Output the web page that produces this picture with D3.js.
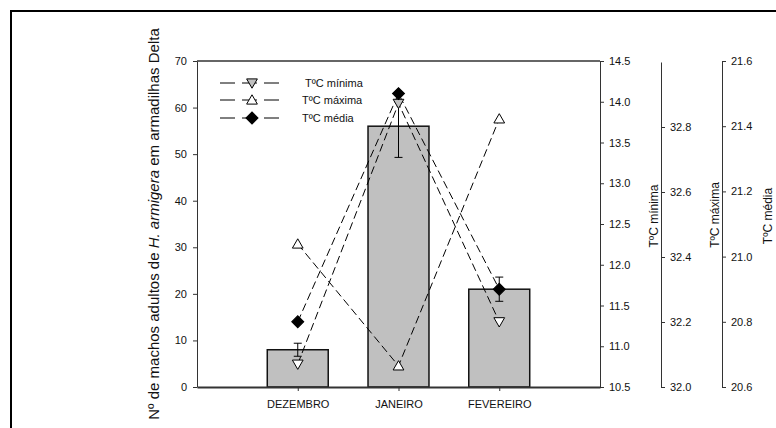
<!DOCTYPE html>
<html><head><meta charset="utf-8">
<script src="https://cdn.jsdelivr.net/npm/d3@7"></script>
<style>body{margin:0;background:#fff}svg{display:block;font-family:"Liberation Sans",Arial,sans-serif}</style>
</head><body>
<svg id="c" width="776" height="428"></svg>
<script>
const categories = ["DEZEMBRO","JANEIRO","FEVEREIRO"];
const machos = [8.0, 56.0, 21.0];
const machosErr = [1.4, 6.7, 2.6];
const tMin = [10.78, 13.98, 11.3];
const tMax = [32.44, 32.065, 32.825];
const tMed = [20.80, 21.50, 20.90];
const leftTicks = [0,10,20,30,40,50,60,70];
const minTicks = [10.5,11.0,11.5,12.0,12.5,13.0,13.5,14.0,14.5];
const maxTicks = [32.0,32.2,32.4,32.6,32.8];
const medTicks = [20.6,20.8,21.0,21.2,21.4,21.6];
const legendLabels = ["T\u00baC m\u00ednima","T\u00baC m\u00e1xima","T\u00baC m\u00e9dia"];
const yTitle = ["N\u00ba de machos adultos de ", "H. armigera", " em armadilhas Delta"];
const axisTitles = ["T\u00baC m\u00ednima","T\u00baC m\u00e1xima","T\u00baC m\u00e9dia"];

const svg = d3.select("#c");
const L=197, R=600, T=61, B=387;
const ax="#333";

svg.append("rect").attr("x",11).attr("y",11).attr("width",800).attr("height",500)
  .attr("fill","none").attr("stroke","#000").attr("stroke-width",2);

const x = d3.scalePoint().domain(categories).range([L,R]).padding(1);
const y = d3.scaleLinear().domain([0,70]).range([B,T]);
const yMin = d3.scaleLinear().domain([10.5,14.5]).range([B,T]);
const yMax = d3.scaleLinear().domain([32,33]).range([B,T+1]);
const yMed = d3.scaleLinear().domain([20.6,21.6]).range([B,T]);
const bw = x.step()*0.605;

// bars
svg.append("g").selectAll("rect").data(categories).join("rect")
  .attr("x",d=>x(d)-bw/2).attr("y",(d,i)=>y(machos[i]))
  .attr("width",bw).attr("height",(d,i)=>B-y(machos[i]))
  .attr("fill","#c0c0c0").attr("stroke","#111").attr("stroke-width",1.5);

// error bars
const eb = svg.append("g").attr("stroke","#000").attr("stroke-width",1);
categories.forEach((c,i)=>{
  const cx=x(c), y1=y(machos[i]+machosErr[i]), y2=y(machos[i]-machosErr[i]);
  eb.append("line").attr("x1",cx).attr("x2",cx).attr("y1",y1).attr("y2",y2);
  eb.append("line").attr("x1",cx-4).attr("x2",cx+4).attr("y1",y1).attr("y2",y1);
  eb.append("line").attr("x1",cx-4).attr("x2",cx+4).attr("y1",y2).attr("y2",y2);
});

// axes
function styleAxis(g){g.selectAll("path,line").attr("stroke",ax);g.selectAll("text").attr("fill","#111").style("font-size","11px");}
svg.append("g").attr("transform",`translate(${L},0)`)
  .call(d3.axisLeft(y).tickValues(leftTicks).tickSize(4).tickSizeOuter(0).tickPadding(6).tickFormat(d3.format("d")))
  .call(g=>g.attr("font-family",null)).call(styleAxis);
svg.append("g").attr("transform",`translate(${R},0)`)
  .call(d3.axisRight(yMin).tickValues(minTicks).tickSize(4).tickSizeOuter(0).tickPadding(5).tickFormat(d3.format(".1f")))
  .call(g=>g.attr("font-family",null)).call(styleAxis);
svg.append("g").attr("transform",`translate(661,0)`)
  .call(d3.axisRight(yMax).tickValues(maxTicks).tickSize(4).tickSizeOuter(0).tickPadding(5).tickFormat(d3.format(".1f")))
  .call(g=>g.attr("font-family",null)).call(styleAxis);
svg.append("g").attr("transform",`translate(722,0)`)
  .call(d3.axisRight(yMed).tickValues(medTicks).tickSize(4).tickSizeOuter(0).tickPadding(5).tickFormat(d3.format(".1f")))
  .call(g=>g.attr("font-family",null)).call(styleAxis);
svg.append("g").attr("transform",`translate(0,${B})`)
  .call(d3.axisBottom(x).tickSize(4).tickSizeOuter(0).tickPadding(9))
  .call(g=>g.attr("font-family",null)).call(styleAxis)
  .call(g=>g.select(".domain").attr("stroke-width",1.8));
svg.append("line").attr("x1",L).attr("x2",R).attr("y1",T).attr("y2",T).attr("stroke",ax).attr("stroke-width",1.5);

// titles
const yt = svg.append("text").attr("transform","translate(159,224) rotate(-90)")
  .attr("text-anchor","middle").style("font-size","15px").attr("fill","#111");
yt.append("tspan").text(yTitle[0]);
yt.append("tspan").style("font-style","italic").text(yTitle[1]);
yt.append("tspan").text(yTitle[2]);
[[658,216],[719,215],[772,216]].forEach((p,i)=>{
  svg.append("text").attr("transform",`translate(${p[0]},${p[1]}) rotate(-90)`)
    .attr("text-anchor","middle").style("font-size","12px").attr("fill","#111").text(axisTitles[i]);
});

// lines
const series = [
  {vals:tMin, sc:yMin, sym:"down"},
  {vals:tMax, sc:yMax, sym:"up"},
  {vals:tMed, sc:yMed, sym:"diamond"}
];
const line = d3.line();
series.forEach(s=>{
  svg.append("path").attr("d",line(categories.map((c,i)=>[x(c),s.sc(s.vals[i])])))
    .attr("fill","none").attr("stroke","#000").attr("stroke-width",1).attr("stroke-dasharray","8,4");
});
const triSym = d3.symbol().type(d3.symbolTriangle).size(50);
const diaSym = d3.symbol().type(d3.symbolSquare).size(72);
function drawMarker(g,type,cx,cy,fill){
  if(type==="diamond"){
    g.append("path").attr("d",diaSym()).attr("transform",`translate(${cx},${cy}) rotate(45)`)
      .attr("fill","#000").attr("stroke","#000");
  } else {
    g.append("path").attr("d",triSym()).attr("transform",`translate(${cx},${cy+(type==="down"?-1:1)}) rotate(${type==="down"?180:0})`)
      .attr("fill",fill).attr("stroke","#000").attr("stroke-width",1);
  }
}
const mk = svg.append("g");
series.forEach(s=>{
  categories.forEach((c,i)=>{
    const cy=s.sc(s.vals[i]);
    const insideBar = cy>y(machos[i]);
    const fill = s.sym==="down" ? (insideBar?"#fff":"#c0c0c0") : "#fff";
    drawMarker(mk,s.sym,x(c),cy,fill);
  });
});

// legend
const lg = svg.append("g");
const legY=[83,100,118];
series.forEach((s,i)=>{
  lg.append("line").attr("x1",220).attr("x2",279).attr("y1",legY[i]).attr("y2",legY[i])
    .attr("stroke","#000").attr("stroke-width",1).attr("stroke-dasharray","15,7");
  drawMarker(lg,s.sym,252,legY[i],s.sym==="down"?"#c0c0c0":"#fff");
  lg.append("text").attr("x",i===0?305:302).attr("y",legY[i]+4).style("font-size","11px").attr("fill","#111").text(legendLabels[i]);
});
</script>
</body></html>
